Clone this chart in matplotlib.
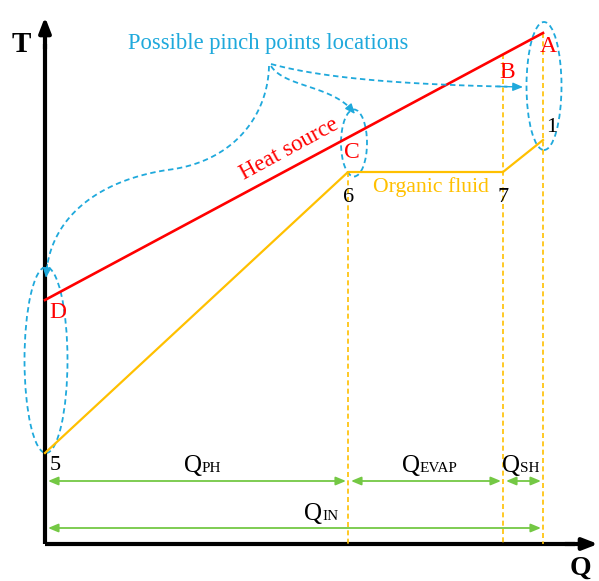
import numpy as np
import matplotlib
matplotlib.use('Agg')
import matplotlib.pyplot as plt
from matplotlib.patches import Ellipse

plt.rcParams['font.family'] = ['Liberation Serif', 'DejaVu Serif']

# T-Q diagram points (Q to the right of the origin, T above it)
heat_q = [0, 498]           # D -> A
heat_t = [244, 511]
fluid_q = [0, 303, 458, 498]  # 5, 6, 7, 1
fluid_t = [91, 372, 372, 404]
fluid_labels = ['5', '6', '7', '1']
q_split = [303, 458, 498]   # end of PH, EVAP, SH

RED = '#FF0000'
ORANGE = '#FFC000'
CYAN = '#1FA9DC'
GREEN = '#74C844'

fig = plt.figure(figsize=(5.99, 5.81), dpi=100)
ax = fig.add_axes([0, 0, 1, 1])
ax.set_xlim(-45, 554)
ax.set_ylim(-37, 544)
ax.axis('off')

# axes arrows
ax.plot([0, 0], [0, 500], color='black', lw=3, solid_capstyle='butt')
ax.plot([0, 530], [0, 0], color='black', lw=3, solid_capstyle='butt')
ax.annotate('', xy=(0, 527), xytext=(0, 495),
            arrowprops=dict(arrowstyle='-|>,head_length=0.9,head_width=0.35',
                            color='black', lw=3, shrinkA=0, shrinkB=0))
ax.annotate('', xy=(553, 0), xytext=(520, 0),
            arrowprops=dict(arrowstyle='-|>,head_length=0.9,head_width=0.35',
                            color='black', lw=3, shrinkA=0, shrinkB=0))
ax.text(-24, 500, 'T', fontsize=21, fontweight='bold', ha='center', va='center')
ax.text(535, -24, 'Q', fontsize=20, fontweight='bold', ha='center', va='center')

# vertical guide lines
slope = (heat_t[1] - heat_t[0]) / (heat_q[1] - heat_q[0])
ax.plot([q_split[0], q_split[0]], [fluid_t[1], 0], color=ORANGE, lw=1.2, ls=(0, (3, 2)))
ax.plot([q_split[1], q_split[1]], [heat_t[0] + slope * q_split[1], 0],
        color=ORANGE, lw=1.2, ls=(0, (3, 2)))
ax.plot([q_split[2], q_split[2]], [heat_t[1], 0], color=ORANGE, lw=1.2, ls=(0, (3, 2)))

# heat source and organic fluid
ax.plot(heat_q, heat_t, color=RED, lw=1.9)
ax.plot(fluid_q, fluid_t, color=ORANGE, lw=1.6)

ax.text(503, 498, 'A', color=RED, fontsize=17, ha='center', va='center')
ax.text(462, 472, 'B', color=RED, fontsize=17, ha='center', va='center')
ax.text(307, 392, 'C', color=RED, fontsize=17, ha='center', va='center')
ax.text(13, 231, 'D', color=RED, fontsize=17, ha='center', va='center')

label_pos = [(10, 79), (304, 347), (458, 347), (507, 416)]
for lab, (x, y) in zip(fluid_labels, label_pos):
    ax.text(x, y, lab, fontsize=16, ha='center', va='center')

ax.text(244, 395, 'Heat source', color=RED, fontsize=16.5, rotation=28.5,
        ha='center', va='center', rotation_mode='anchor')
ax.text(386, 357, 'Organic fluid', color=ORANGE, fontsize=15.7,
        ha='center', va='center')

# pinch point highlights
for c, w, h in [((499, 458), 35, 128), ((309, 401), 26, 67), ((1, 184), 43, 186)]:
    ax.add_patch(Ellipse(c, w, h, fill=False, ec=CYAN, lw=1.3, ls=(0, (3, 2))))

ax.text(223, 501, 'Possible pinch points locations', color=CYAN, fontsize=16.3,
        ha='center', va='center')


def bez(p0, p1, p2, p3, n=60):
    t = np.linspace(0, 1, n)[:, None]
    p = [np.array(v, float) for v in (p0, p1, p2, p3)]
    return ((1 - t) ** 3 * p[0] + 3 * (1 - t) ** 2 * t * p[1]
            + 3 * (1 - t) * t ** 2 * p[2] + t ** 3 * p[3])


def curve(segs):
    pts = np.vstack([bez(*s) for s in segs])
    ax.plot(pts[:-3, 0], pts[:-3, 1], color=CYAN, lw=1.3, ls=(0, (3, 2)))
    ax.annotate('', xy=pts[-1], xytext=pts[-6],
                arrowprops=dict(arrowstyle='-|>,head_length=0.6,head_width=0.25',
                                color=CYAN, lw=1.0, shrinkA=0, shrinkB=0))


curve([((226, 480), (285, 464), (375, 459), (478, 457))])
curve([((226, 478), (240, 456), (290, 459), (310, 430))])
curve([((224, 478), (223, 430), (190, 382), (122, 374)),
       ((122, 374), (45, 362), (3, 320), (1, 266))])

# heat duty arrows
row1, row2 = 63, 16
bounds = [0, q_split[0], q_split[1], q_split[2]]
for a, b in zip(bounds[:-1], bounds[1:]):
    ax.annotate('', xy=(b - 2, row1), xytext=(a + 3, row1),
                arrowprops=dict(arrowstyle='<|-|>,head_length=0.6,head_width=0.25',
                                color=GREEN, lw=1.3, shrinkA=0, shrinkB=0))
ax.annotate('', xy=(q_split[2] - 2, row2), xytext=(3, row2),
            arrowprops=dict(arrowstyle='<|-|>,head_length=0.6,head_width=0.25',
                            color=GREEN, lw=1.3, shrinkA=0, shrinkB=0))


def qlabel(x, y, sub):
    ax.text(x, y, 'Q', fontsize=18, ha='right', va='baseline')
    ax.text(x, y, sub, fontsize=11, ha='left', va='baseline')


qlabel(157, 72, 'PH')
qlabel(375, 72, 'EVAP')
qlabel(475, 72, 'SH')
qlabel(277, 24, 'IN')

fig.savefig('out.png', dpi=100)
